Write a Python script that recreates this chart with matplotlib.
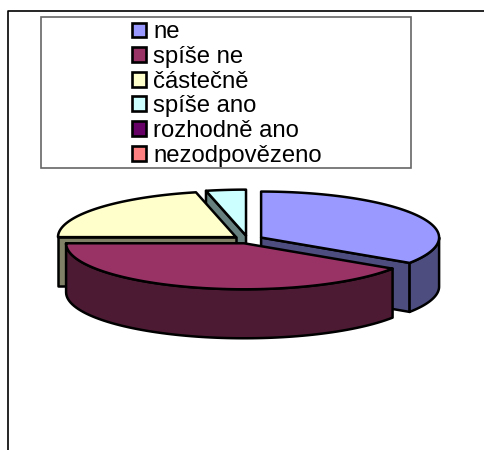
import numpy as np
import matplotlib.pyplot as plt
from matplotlib.patches import Patch, Rectangle

categories = ['ne', 'spíše ne', 'částečně', 'spíše ano', 'rozhodně ano', 'nezodpovězeno']
values = [8, 10, 5, 1, 0, 0]
top_colors = ['#9999FF', '#993366', '#FFFFCC', '#CCFFFF', '#660066', '#FF8080']
side_colors = ['#4D4D80', '#4D1A33', '#808066', '#668080', '#330033', '#804040']

plt.rcParams['font.family'] = ['Liberation Sans', 'DejaVu Sans']

# pie geometry in pixels
cx, cy = 248, 239.5
rx, ry = 178, 46
depth = 49
explode = 0.085
edge_w = 1.8


def rim(center, a, b, n=80):
    t = np.linspace(a, b, n)
    # small warp for the perspective of the tilted pie
    t = np.radians(t - 4 * np.sin(np.radians(2 * t)))
    return center[0] + rx * np.sin(t), center[1] - ry * np.cos(t)


def face(ax, xs, ys, color):
    ax.fill(xs, ys, facecolor=color, edgecolor='black', lw=edge_w, joinstyle='round')


fig = plt.figure(figsize=(4.85, 4.5), dpi=100)
ax = fig.add_axes([0, 0, 1, 1])
ax.set_xlim(0, 485)
ax.set_ylim(450, 0)
ax.axis('off')

# frame of the chart, open at the bottom and right
ax.plot([8, 8, 485], [450, 11, 11], color='black', lw=1.2)

# slices clockwise from the top
total = sum(values)
edges = np.concatenate([[0], np.cumsum(values)]) * 360 / total
slices = []
for i in range(len(values)):
    if values[i] == 0:
        continue
    a, b = edges[i], edges[i + 1]
    mid = np.radians((a + b) / 2)
    center = (cx + explode * rx * np.sin(mid), cy - explode * ry * np.cos(mid))
    slices.append((i, a, b, center))

# back slices first, the big front one last
order = sorted(slices, key=lambda s: -np.cos(np.radians((s[1] + s[2]) / 2)))
for i, a, b, center in order:
    # cut faces looking at the viewer
    for ang, visible in ((a, np.sin(np.radians(a)) < -1e-6), (b, np.sin(np.radians(b)) > 1e-6)):
        if visible:
            ex, ey = rim(center, ang, ang, 1)
            xs = [center[0], ex[0], ex[0], center[0]]
            ys = [center[1], ey[0], ey[0] + depth, center[1] + depth]
            face(ax, xs, ys, side_colors[i])
    # outer wall, front half of the rim only
    lo, hi = max(a, 90), min(b, 270)
    if lo < hi:
        wx, wy = rim(center, lo, hi)
        xs = np.concatenate([wx, wx[::-1]])
        ys = np.concatenate([wy, wy[::-1] + depth])
        face(ax, xs, ys, side_colors[i])
    tx, ty = rim(center, a, b)
    face(ax, np.r_[center[0], tx], np.r_[center[1], ty], top_colors[i])

# legend box
ax.add_patch(Rectangle((41, 17), 370, 151, facecolor='white', edgecolor='#666666', lw=1.2))
handles = [Patch(facecolor=c, edgecolor='black', lw=1.9) for c in top_colors]
ax.legend(handles, categories, loc='center', bbox_to_anchor=(227 / 485, 1 - 94 / 450),
          frameon=False, fontsize=17.2, handlelength=0.58, handleheight=0.58,
          handletextpad=0.3, labelspacing=0.11, borderpad=0, borderaxespad=0)

fig.savefig('out.png', dpi=100)
